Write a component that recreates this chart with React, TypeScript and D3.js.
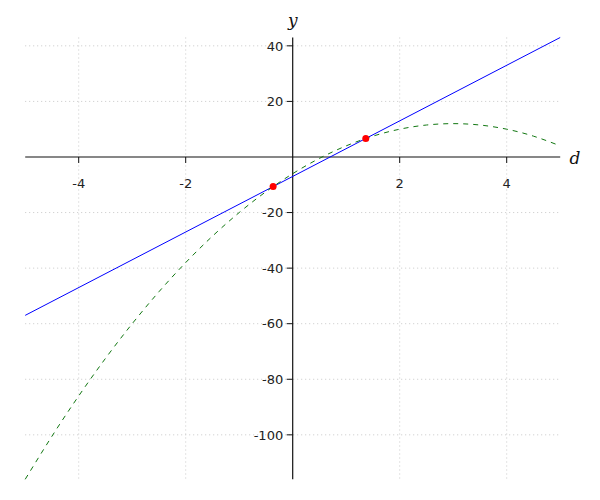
import React from "react";
import * as d3 from "d3";

const curveX = [-5, -4.5, -4, -3.5, -3, -2.5, -2, -1.5, -1, -0.5, 0, 0.5, 1, 1.5, 2, 2.5, 3, 3.5, 4, 4.5, 5];
const curveY = [-116, -100.5, -86, -72.5, -60, -48.5, -38, -28.5, -20, -12.5, -6, -0.5, 4, 7.5, 10, 11.5, 12, 11.5, 10, 7.5, 4];
const lineX = [-5, 5];
const lineY = [-57, 43];
const pointX = [-0.366, 1.366];
const pointY = [-10.66, 6.66];
const xTicks = [-4, -2, 2, 4];
const yTicks = [40, 20, -20, -40, -60, -80, -100];

export default function App() {
  const W = 600, H = 500;
  const x = d3.scaleLinear().domain([-5, 5]).range([25.2, 560.2]);
  const y = d3.scaleLinear().domain([-116, 43]).range([479.3, 37.5]);
  const x0 = x(0), y0 = y(0);
  const curveData = curveX.map((v, i) => [v, curveY[i]] as [number, number]);
  const lineData = lineX.map((v, i) => [v, lineY[i]] as [number, number]);
  const curvePath = d3.line<[number, number]>().x(d => x(d[0])).y(d => y(d[1])).curve(d3.curveNatural)(curveData) || "";
  const linePath = d3.line<[number, number]>().x(d => x(d[0])).y(d => y(d[1]))(lineData) || "";
  const font = "DejaVu Sans, sans-serif";
  return (
    <svg width={W} height={H} style={{ position: "absolute", left: 0, top: 0 }}>
      <rect width={W} height={H} fill="white" />
      {xTicks.map(t => (
        <line key={"gx" + t} x1={x(t)} x2={x(t)} y1={y(43)} y2={y(-116)} stroke="#c8c8c8" strokeWidth={1} strokeDasharray="1,3" />
      ))}
      {yTicks.map(t => (
        <line key={"gy" + t} x1={x(-5)} x2={x(5)} y1={y(t)} y2={y(t)} stroke="#c8c8c8" strokeWidth={1} strokeDasharray="1,3" />
      ))}
      <line x1={x(-5)} x2={x(5)} y1={y0} y2={y0} stroke="#111" strokeWidth={1.2} />
      <line x1={x0} x2={x0} y1={y(43)} y2={y(-116)} stroke="#111" strokeWidth={1.2} />
      {xTicks.map(t => (
        <g key={"tx" + t}>
          <line x1={x(t)} x2={x(t)} y1={y0} y2={y0 + 6} stroke="#111" strokeWidth={1} />
          <text x={x(t)} y={y0 + 31} textAnchor="middle" fontFamily={font} fontSize={13} fill="#222">{t}</text>
        </g>
      ))}
      {yTicks.map(t => (
        <g key={"ty" + t}>
          <line x1={x0 - 6} x2={x0} y1={y(t)} y2={y(t)} stroke="#111" strokeWidth={1} />
          <text x={x0 - 9.5} y={y(t) + 4.8} textAnchor="end" fontFamily={font} fontSize={13} fill="#222">{t}</text>
        </g>
      ))}
      <path d={linePath} fill="none" stroke="blue" strokeWidth={1} />
      <path d={curvePath} fill="none" stroke="#117711" strokeWidth={1} strokeDasharray="5,5" />
      {pointX.map((v, i) => (
        <circle key={"p" + i} cx={x(v)} cy={y(pointY[i])} r={3.5} fill="red" />
      ))}
      <text x={x0} y={26} textAnchor="middle" fontFamily="DejaVu Serif, serif" fontStyle="italic" fontSize={17} fill="#111">y</text>
      <text x={575} y={164} textAnchor="middle" fontFamily="DejaVu Serif, serif" fontStyle="italic" fontSize={17} fill="#111">d</text>
    </svg>
  );
}
